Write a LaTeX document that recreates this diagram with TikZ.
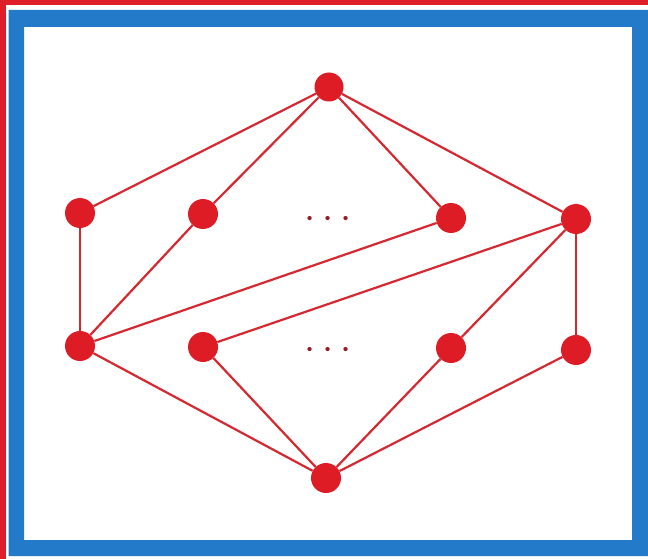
\documentclass[tikz,border=0pt]{standalone}
\usepackage{graphicx}
\definecolor{nodered}{RGB}{222,28,38}
\definecolor{edgered}{RGB}{214,40,48}
\definecolor{framered}{RGB}{222,30,40}
\definecolor{frameblue}{RGB}{34,122,200}
\definecolor{dotred}{RGB}{150,25,35}
\begin{document}
\begin{tikzpicture}[x=1pt,y=-1pt,
  vert/.style={circle,fill=nodered,inner sep=0pt,minimum size=30pt},
  edge/.style={draw=edgered,line width=2.2pt},
  ellip/.style={text=dotred,font=\Huge,inner sep=0pt}]
\useasboundingbox (0,0) rectangle (648,559);
% frame
\fill[white] (0,0) rectangle (648,559);
\fill[framered] (0,0) rectangle (648,5.5);
\fill[framered] (0,0) rectangle (5.5,559);
\fill[frameblue,even odd rule] (8.5,10) rectangle (648,556) (24,27) rectangle (632,540);
% vertices
\node[vert,minimum size=29pt] (t) at (329,87) {};
\node[vert] (l1) at (80,213) {};
\node[vert] (l2) at (203,214) {};
\node[vert] (r3) at (451,218) {};
\node[vert] (r4) at (576,219) {};
\node[vert] (bl1) at (80,346) {};
\node[vert] (bl2) at (203,347) {};
\node[vert] (br3) at (451,348) {};
\node[vert] (br4) at (576,350) {};
\node[vert] (b) at (326,478) {};
\node[ellip] (d1) at (328,220) {\scalebox{1.6}{$\cdots$}};
\node[ellip] (d2) at (328,351) {\scalebox{1.6}{$\cdots$}};
% edges
\path[edge] (t) -- (l1);
\path[edge] (t) -- (l2);
\path[edge] (t) -- (r3);
\path[edge] (t) -- (r4);
\path[edge] (l1) -- (bl1);
\path[edge] (bl1) -- (l2);
\path[edge] (bl1) -- (r3);
\path[edge] (bl1) -- (b);
\path[edge] (r4) -- (bl2);
\path[edge] (r4) -- (br3);
\path[edge] (r4) -- (br4);
\path[edge] (bl2) -- (b);
\path[edge] (br3) -- (b);
\path[edge] (br4) -- (b);
\end{tikzpicture}
\end{document}
